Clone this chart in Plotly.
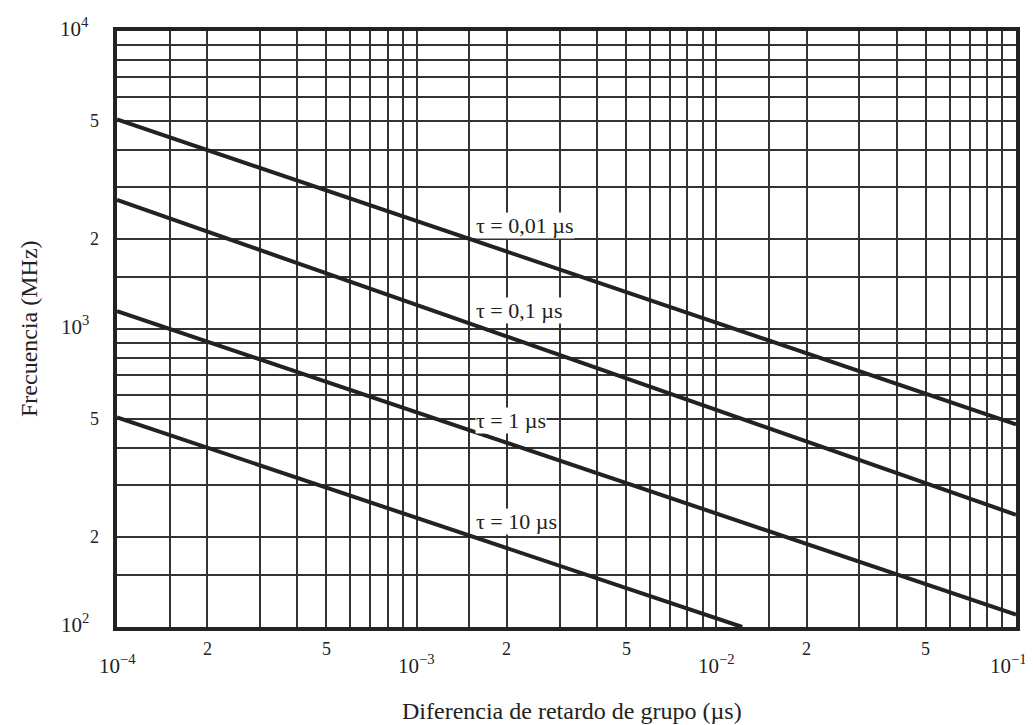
import math

import plotly.graph_objects as go

# Diferencia de retardo de grupo (µs) at the two ends of each line, and the frequency (MHz) read there
labels = ['τ = 0,01 µs', 'τ = 0,1 µs', 'τ = 1 µs', 'τ = 10 µs']
x_start = [1e-4, 1e-4, 1e-4, 1e-4]
x_end = [1e-1, 1e-1, 1e-1, 1.22e-2]
f_start = [5050, 2710, 1148, 505]
f_end = [479, 238, 110, 100]

# where each label sits (µs, MHz)
label_x = [1.56e-3, 1.56e-3, 1.56e-3, 1.56e-3]
label_f = [2220, 1150, 494, 226]

# tick labels
x_major = [1e-4, 1e-3, 1e-2, 1e-1]
x_major_text = ['10<sup>−4</sup>', '10<sup>−3</sup>', '10<sup>−2</sup>', '10<sup>−1</sup>']
x_minor = [2e-4, 5e-4, 2e-3, 5e-3, 2e-2, 5e-2]
x_minor_text = ['2', '5', '2', '5', '2', '5']
y_major = [1e2, 1e3, 1e4]
y_major_text = ['10<sup>2</sup>', '10<sup>3</sup>', '10<sup>4</sup>']
y_minor = [200, 500, 2000, 5000]
y_minor_text = ['2', '5', '2', '5']

grid_steps = [1, 1.5, 2, 3, 4, 5, 6, 7, 8, 9]

INK = '#222222'
FONT = 'Liberation Serif'


def grid(lo, hi):
    vals = []
    for e in range(lo, hi):
        vals += [k * 10 ** e for k in grid_steps]
    vals.append(10 ** hi)
    return vals


fig = go.Figure()
for i in range(len(labels)):
    fig.add_trace(go.Scatter(
        x=[x_start[i], x_end[i]],
        y=[f_start[i], f_end[i]],
        mode='lines',
        line=dict(color=INK, width=4),
        hoverinfo='skip',
        showlegend=False,
    ))

annotations = []
for i, txt in enumerate(labels):
    annotations.append(dict(
        x=math.log10(label_x[i]), y=math.log10(label_f[i]), xref='x', yref='y',
        text=txt, showarrow=False, xanchor='left', yanchor='middle',
        bgcolor='white', borderpad=0, font=dict(family=FONT, size=22, color=INK),
    ))

for n, (v, t) in enumerate(zip(x_major, x_major_text)):
    annotations.append(dict(
        x=math.log10(v), y=0, xref='x', yref='paper', text=t, showarrow=False,
        xanchor='center', yanchor='top', yshift=-22,
        xshift=-8 if n == len(x_major) - 1 else 0,
        font=dict(family=FONT, size=21, color=INK),
    ))
for v, t in zip(x_minor, x_minor_text):
    annotations.append(dict(
        x=math.log10(v), y=0, xref='x', yref='paper', text=t, showarrow=False,
        xanchor='center', yanchor='middle', yshift=-22,
        font=dict(family=FONT, size=18, color=INK),
    ))
for v, t in zip(y_major, y_major_text):
    annotations.append(dict(
        x=0, y=math.log10(v), xref='paper', yref='y', text=t, showarrow=False,
        xanchor='right', yanchor='middle', xshift=-26, yshift=4,
        font=dict(family=FONT, size=21, color=INK),
    ))
for v, t in zip(y_minor, y_minor_text):
    annotations.append(dict(
        x=0, y=math.log10(v), xref='paper', yref='y', text=t, showarrow=False,
        xanchor='right', yanchor='middle', xshift=-16,
        font=dict(family=FONT, size=18, color=INK),
    ))

annotations.append(dict(
    x=0.506, y=0, xref='paper', yref='paper', yanchor='middle', yshift=-84,
    text='Diferencia de retardo de grupo (µs)', showarrow=False,
    font=dict(family=FONT, size=24, color=INK),
))
annotations.append(dict(
    x=0, y=0.5, xref='paper', yref='paper', xanchor='center', xshift=-88,
    text='Frecuencia (MHz)', textangle=-90, showarrow=False,
    font=dict(family=FONT, size=24, color=INK),
))

fig.update_layout(
    width=1033, height=725,
    margin=dict(l=109, r=25, t=23, b=106),
    plot_bgcolor='white', paper_bgcolor='white',
    annotations=annotations,
)
fig.update_xaxes(
    type='log', range=[-4, -1],
    tickvals=grid(-4, -1), showticklabels=False, ticks='',
    showgrid=True, gridcolor='#333333', gridwidth=1.5, zeroline=False,
    showline=True, mirror=True, linecolor=INK, linewidth=4,
)
fig.update_yaxes(
    type='log', range=[2, 4],
    tickvals=grid(2, 4), showticklabels=False, ticks='',
    showgrid=True, gridcolor='#333333', gridwidth=1.5, zeroline=False,
    showline=True, mirror=True, linecolor=INK, linewidth=4,
)

fig.write_html('out.html')
